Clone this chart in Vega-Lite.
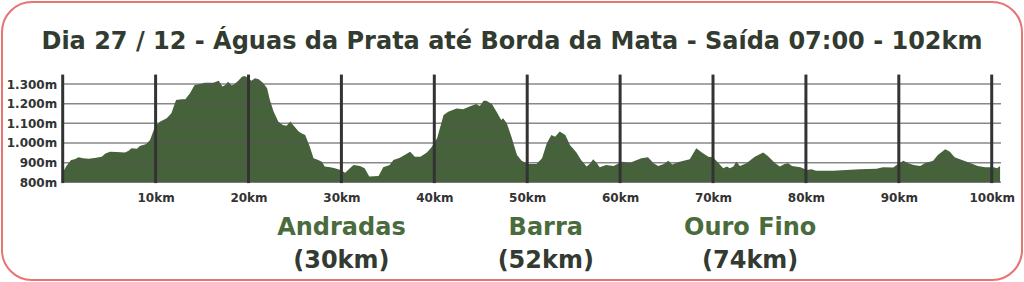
{
  "$schema": "https://vega.github.io/schema/vega-lite/v6.json",
  "width": 1020,
  "height": 278,
  "padding": 2,
  "autosize": {"type": "none"},
  "background": "#ffffff",
  "title": {
    "text": "Dia 27 / 12 - Águas da Prata até Borda da Mata - Saída 07:00 - 102km",
    "font": "DejaVu Sans",
    "fontSize": 24,
    "fontWeight": "bold",
    "color": "#323b30",
    "anchor": "middle",
    "offset": -52
  },
  "config": {
    "view": {"stroke": "#e97272", "strokeWidth": 2, "cornerRadius": 30, "fill": "#ffffff"}
  },
  "datasets": {
    "profile": [
      {"km": 0.0, "elev": 850}, {"km": 0.4, "elev": 883}, {"km": 0.9, "elev": 913}, {"km": 1.3, "elev": 917},
      {"km": 1.7, "elev": 927}, {"km": 2.2, "elev": 922}, {"km": 2.8, "elev": 920}, {"km": 3.6, "elev": 925},
      {"km": 4.2, "elev": 930}, {"km": 4.6, "elev": 947}, {"km": 5.1, "elev": 956}, {"km": 5.8, "elev": 954},
      {"km": 6.7, "elev": 951}, {"km": 7.1, "elev": 961}, {"km": 7.4, "elev": 973}, {"km": 8.0, "elev": 971},
      {"km": 8.3, "elev": 985}, {"km": 9.0, "elev": 995}, {"km": 9.4, "elev": 1015}, {"km": 9.8, "elev": 1066},
      {"km": 10.1, "elev": 1092}, {"km": 10.5, "elev": 1109}, {"km": 11.2, "elev": 1126}, {"km": 11.7, "elev": 1151},
      {"km": 12.2, "elev": 1219}, {"km": 12.8, "elev": 1222}, {"km": 13.2, "elev": 1222}, {"km": 13.7, "elev": 1253},
      {"km": 14.2, "elev": 1295}, {"km": 14.8, "elev": 1300}, {"km": 15.3, "elev": 1307}, {"km": 16.2, "elev": 1307},
      {"km": 16.8, "elev": 1317}, {"km": 17.2, "elev": 1287}, {"km": 17.5, "elev": 1295}, {"km": 17.8, "elev": 1312},
      {"km": 18.2, "elev": 1292}, {"km": 18.5, "elev": 1300}, {"km": 18.9, "elev": 1317}, {"km": 19.3, "elev": 1337},
      {"km": 19.6, "elev": 1341}, {"km": 20.0, "elev": 1329}, {"km": 20.3, "elev": 1317}, {"km": 20.7, "elev": 1329},
      {"km": 21.1, "elev": 1324}, {"km": 21.6, "elev": 1304}, {"km": 22.0, "elev": 1278}, {"km": 22.3, "elev": 1219},
      {"km": 22.7, "elev": 1160}, {"km": 23.2, "elev": 1109}, {"km": 23.7, "elev": 1092}, {"km": 24.1, "elev": 1088},
      {"km": 24.5, "elev": 1109}, {"km": 24.8, "elev": 1092}, {"km": 25.4, "elev": 1058}, {"km": 25.7, "elev": 1049},
      {"km": 26.1, "elev": 1041}, {"km": 26.6, "elev": 981}, {"km": 27.0, "elev": 922}, {"km": 27.5, "elev": 913},
      {"km": 27.9, "elev": 905}, {"km": 28.2, "elev": 880}, {"km": 28.8, "elev": 876}, {"km": 29.3, "elev": 871},
      {"km": 29.9, "elev": 863}, {"km": 30.4, "elev": 849}, {"km": 30.8, "elev": 866}, {"km": 31.3, "elev": 888},
      {"km": 32.0, "elev": 883}, {"km": 32.5, "elev": 871}, {"km": 33.0, "elev": 829}, {"km": 34.0, "elev": 832},
      {"km": 34.5, "elev": 876}, {"km": 35.2, "elev": 888}, {"km": 35.6, "elev": 913}, {"km": 36.3, "elev": 925},
      {"km": 37.4, "elev": 956}, {"km": 37.9, "elev": 930}, {"km": 38.5, "elev": 930}, {"km": 39.2, "elev": 951},
      {"km": 39.7, "elev": 978}, {"km": 40.3, "elev": 1024}, {"km": 41.0, "elev": 1142}, {"km": 41.5, "elev": 1159},
      {"km": 42.4, "elev": 1176}, {"km": 43.1, "elev": 1171}, {"km": 43.8, "elev": 1185}, {"km": 44.5, "elev": 1198},
      {"km": 44.9, "elev": 1188}, {"km": 45.3, "elev": 1215}, {"km": 45.6, "elev": 1215}, {"km": 46.2, "elev": 1198},
      {"km": 46.7, "elev": 1159}, {"km": 47.2, "elev": 1117}, {"km": 47.4, "elev": 1126}, {"km": 47.8, "elev": 1100},
      {"km": 48.3, "elev": 1032}, {"km": 48.9, "elev": 939}, {"km": 49.4, "elev": 910}, {"km": 50.1, "elev": 893},
      {"km": 51.0, "elev": 893}, {"km": 51.6, "elev": 922}, {"km": 52.1, "elev": 998}, {"km": 52.6, "elev": 1041},
      {"km": 53.0, "elev": 1032}, {"km": 53.5, "elev": 1058}, {"km": 54.1, "elev": 1041}, {"km": 54.6, "elev": 990},
      {"km": 55.3, "elev": 951}, {"km": 55.8, "elev": 913}, {"km": 56.4, "elev": 880}, {"km": 56.8, "elev": 897},
      {"km": 57.1, "elev": 917}, {"km": 57.5, "elev": 897}, {"km": 57.8, "elev": 876}, {"km": 58.5, "elev": 888},
      {"km": 59.3, "elev": 883}, {"km": 60.2, "elev": 905}, {"km": 61.1, "elev": 900}, {"km": 61.6, "elev": 910},
      {"km": 62.3, "elev": 922}, {"km": 63.0, "elev": 927}, {"km": 63.6, "elev": 897}, {"km": 64.1, "elev": 883},
      {"km": 64.7, "elev": 893}, {"km": 65.2, "elev": 910}, {"km": 65.6, "elev": 890}, {"km": 66.4, "elev": 905},
      {"km": 67.5, "elev": 917}, {"km": 68.2, "elev": 973}, {"km": 68.8, "elev": 951}, {"km": 69.5, "elev": 930},
      {"km": 70.0, "elev": 927}, {"km": 70.6, "elev": 897}, {"km": 71.1, "elev": 871}, {"km": 71.5, "elev": 880},
      {"km": 71.8, "elev": 871}, {"km": 72.2, "elev": 880}, {"km": 72.5, "elev": 905}, {"km": 72.9, "elev": 883},
      {"km": 73.6, "elev": 897}, {"km": 74.5, "elev": 930}, {"km": 75.4, "elev": 951}, {"km": 75.9, "elev": 934},
      {"km": 76.7, "elev": 897}, {"km": 77.2, "elev": 880}, {"km": 77.7, "elev": 893}, {"km": 78.1, "elev": 897},
      {"km": 78.5, "elev": 883}, {"km": 79.4, "elev": 876}, {"km": 80.1, "elev": 863}, {"km": 80.6, "elev": 866},
      {"km": 81.1, "elev": 859}, {"km": 82.9, "elev": 859}, {"km": 85.8, "elev": 866}, {"km": 87.6, "elev": 869},
      {"km": 88.3, "elev": 876}, {"km": 89.4, "elev": 875}, {"km": 89.9, "elev": 893}, {"km": 90.5, "elev": 910},
      {"km": 91.0, "elev": 897}, {"km": 91.6, "elev": 888}, {"km": 92.3, "elev": 883}, {"km": 92.8, "elev": 897},
      {"km": 93.7, "elev": 910}, {"km": 94.2, "elev": 939}, {"km": 95.0, "elev": 968}, {"km": 95.5, "elev": 956},
      {"km": 96.0, "elev": 927}, {"km": 96.8, "elev": 913}, {"km": 97.6, "elev": 900}, {"km": 98.5, "elev": 883},
      {"km": 99.3, "elev": 876}, {"km": 100.2, "elev": 876}, {"km": 100.6, "elev": 871}, {"km": 100.8, "elev": 880},
      {"km": 100.9, "elev": 880}
    ],
    "elevLines": [
      {"elev": 800}, {"elev": 900}, {"elev": 1000}, {"elev": 1100}, {"elev": 1200}, {"elev": 1300}
    ],
    "kmLines": [
      {"km": 0}, {"km": 10}, {"km": 20}, {"km": 30}, {"km": 40}, {"km": 50},
      {"km": 60}, {"km": 70}, {"km": 80}, {"km": 90}, {"km": 100}
    ],
    "towns": [
      {"town": "Andradas", "km": 30, "label": "(30km)"},
      {"town": "Barra", "km": 52, "label": "(52km)"},
      {"town": "Ouro Fino", "km": 74, "label": "(74km)"}
    ]
  },
  "layer": [
    {
      "data": {"name": "profile"},
      "mark": {"type": "area", "color": "#46623b", "interpolate": "linear"},
      "encoding": {
        "x": {
          "field": "km", "type": "quantitative",
          "scale": {"domain": [-6.534, 103.26], "nice": false, "zero": false},
          "axis": {
            "orient": "bottom", "offset": -89.6, "title": null,
            "values": [10, 20, 30, 40, 50, 60, 70, 80, 90, 100],
            "labelExpr": "datum.value + 'km'",
            "grid": false, "domain": false, "ticks": false, "tickSize": 0,
            "labelPadding": 2, "labelFont": "DejaVu Sans", "labelFontSize": 12,
            "labelFontWeight": "bold", "labelColor": "#333333", "labelFlush": false
          }
        },
        "y": {
          "field": "elev", "type": "quantitative",
          "scale": {"domain": [303.1, 1717.1], "nice": false, "zero": false},
          "axis": {
            "orient": "left", "offset": -60.7, "title": null,
            "values": [800, 900, 1000, 1100, 1200, 1300],
            "labelExpr": "replace(format(datum.value, ','), ',', '.') + 'm'",
            "grid": false, "domain": false, "ticks": false, "tickSize": 0,
            "labelPadding": 6, "labelFont": "DejaVu Sans", "labelFontSize": 12,
            "labelFontWeight": "bold", "labelColor": "#333333", "labelFlush": false
          }
        },
        "y2": {"datum": 800}
      }
    },
    {
      "data": {"name": "elevLines"},
      "mark": {"type": "rule", "color": "#555555", "opacity": 0.7, "strokeWidth": 1.5},
      "encoding": {
        "y": {"field": "elev", "type": "quantitative"},
        "x": {"datum": 0},
        "x2": {"datum": 101}
      }
    },
    {
      "data": {"name": "kmLines"},
      "mark": {"type": "rule", "color": "#333333", "strokeWidth": 3},
      "encoding": {
        "x": {"field": "km", "type": "quantitative"},
        "y": {"datum": 1348},
        "y2": {"datum": 796}
      }
    },
    {
      "data": {"name": "towns"},
      "mark": {"type": "text", "font": "DejaVu Sans", "fontSize": 24, "fontWeight": "bold", "color": "#4a6b3c", "baseline": "middle", "align": "center"},
      "encoding": {
        "x": {"field": "km", "type": "quantitative"},
        "y": {"datum": 566},
        "text": {"field": "town"}
      }
    },
    {
      "data": {"name": "towns"},
      "mark": {"type": "text", "font": "DejaVu Sans", "fontSize": 24, "fontWeight": "bold", "color": "#333a31", "baseline": "middle", "align": "center", "dy": 33},
      "encoding": {
        "x": {"field": "km", "type": "quantitative"},
        "y": {"datum": 566},
        "text": {"field": "label"}
      }
    }
  ]
}
